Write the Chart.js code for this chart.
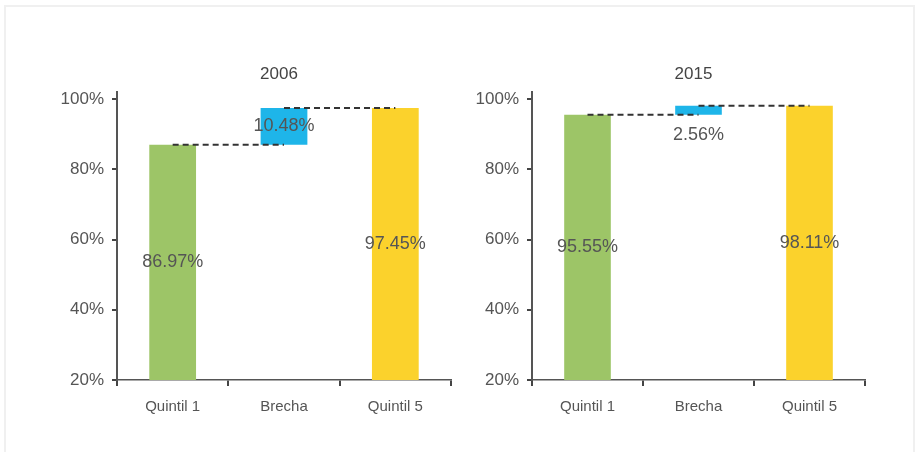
<!DOCTYPE html>
<html>
<head>
<meta charset="utf-8">
<script src="https://cdn.jsdelivr.net/npm/chart.js@4/dist/chart.umd.min.js"></script>
<style>
  body { margin: 0; background: #fff; }
  #frame { position: absolute; left: 4px; top: 5px; width: 907px; height: 460px;
           border: 2px solid #f0f0f0; border-bottom: none; }
  .box { position: absolute; top: 0; width: 458px; height: 452px; }
</style>
</head>
<body>
<div id="frame"></div>
<div class="box" style="left:0"><canvas id="c2006"></canvas></div>
<div class="box" style="left:458px"><canvas id="c2015"></canvas></div>
<script>
// values
const categories = ['Quintil 1', 'Brecha', 'Quintil 5'];
const years = ['2006', '2015'];
const quintil1 = [86.97, 95.55];
const brecha = [10.48, 2.56];
const quintil5 = [97.45, 98.11];
const yTicks = [20, 40, 60, 80, 100];

const colors = ['#9dc567', '#1eb5e9', '#fbd22c'];
const textColor = '#555';
const fontFamily = '"Liberation Sans", Arial, sans-serif';

// title centred on the plot area, value labels, dashed connectors
const waterfallPlugin = {
    id: 'waterfall',
    afterDatasetsDraw(chart, args, opts) {
        const ctx = chart.ctx;
        const area = chart.chartArea;
        const meta = chart.getDatasetMeta(0);
        const y = chart.scales.y;
        const raw = chart.data.datasets[0].data;

        // dashed connectors between the bars
        ctx.save();
        ctx.strokeStyle = '#333';
        ctx.lineWidth = 2;
        ctx.setLineDash([6, 4]);
        for (let i = 0; i < meta.data.length - 1; i++) {
            const v = raw[i][1];
            ctx.beginPath();
            ctx.moveTo(meta.data[i].x, y.getPixelForValue(v));
            ctx.lineTo(meta.data[i + 1].x, y.getPixelForValue(v));
            ctx.stroke();
        }
        ctx.restore();

        // value labels
        ctx.save();
        ctx.fillStyle = textColor;
        ctx.font = '18px ' + fontFamily;
        ctx.textAlign = 'center';
        ctx.textBaseline = 'middle';
        meta.data.forEach((bar, i) => {
            const top = Math.min(bar.y, bar.base);
            const bottom = Math.max(bar.y, bar.base);
            let ly = (top + bottom) / 2;
            if (bottom - top < 16) ly = bottom + 20;
            ctx.fillText(opts.labels[i].toFixed(2) + '%', bar.x, ly);
        });
        ctx.restore();

        // title
        ctx.save();
        ctx.fillStyle = '#444';
        ctx.font = '17px ' + fontFamily;
        ctx.textAlign = 'center';
        ctx.textBaseline = 'middle';
        ctx.fillText(opts.title, (area.left + area.right) / 2 - 5, area.top - 18);
        ctx.restore();
    }
};

function makeChart(id, k, yWidth, padRight) {
    const start = quintil1[k];
    const bars = [[20, quintil1[k]], [start, start + brecha[k]], [20, quintil5[k]]];
    return new Chart(document.getElementById(id), {
        type: 'bar',
        data: {
            labels: categories,
            datasets: [{
                data: bars,
                backgroundColor: colors,
                borderWidth: 0,
                categoryPercentage: 1,
                barPercentage: 0.42
            }]
        },
        options: {
            responsive: true,
            maintainAspectRatio: false,
            animation: false,
            layout: { padding: { top: 92, right: padRight, bottom: 34, left: 0 } },
            plugins: {
                legend: { display: false },
                tooltip: { enabled: false },
                waterfall: {
                    title: years[k],
                    labels: [quintil1[k], brecha[k], quintil5[k]]
                }
            },
            scales: {
                x: {
                    grid: { drawOnChartArea: false, drawTicks: true, tickLength: 6, color: '#444', lineWidth: 2, offset: true },
                    border: { color: '#555', width: 1.5 },
                    ticks: { color: textColor, font: { size: 15, family: fontFamily }, padding: 12 },
                    afterFit: s => { s.height = 38; }
                },
                y: {
                    min: 20,
                    max: 102,
                    grid: { drawOnChartArea: false, drawTicks: true, tickLength: 5, color: '#444', lineWidth: 2 },
                    border: { color: '#555', width: 2 },
                    ticks: {
                        includeBounds: false,
                        color: textColor,
                        font: { size: 17, family: fontFamily },
                        padding: 8,
                        callback: v => v + '%'
                    },
                    afterBuildTicks: s => { s.ticks = yTicks.map(v => ({ value: v })); },
                    afterFit: s => { s.width = yWidth; }
                }
            }
        },
        plugins: [waterfallPlugin]
    });
}

makeChart('c2006', 0, 117, 7);
makeChart('c2015', 1, 74, 51);
</script>
</body>
</html>
